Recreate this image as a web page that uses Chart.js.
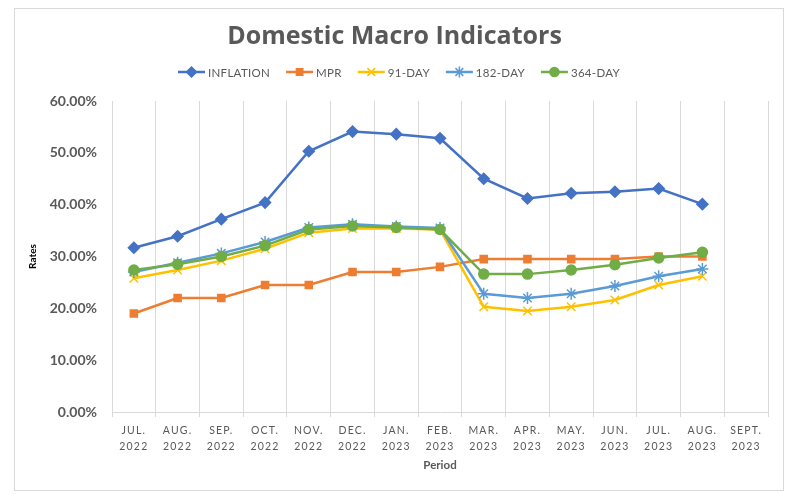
<!DOCTYPE html>
<html>
<head>
<meta charset="utf-8">
<script src="https://cdn.jsdelivr.net/npm/chart.js@4.4.1/dist/chart.umd.min.js"></script>
<style>
  html, body { margin: 0; padding: 0; background: #fff; }
  #box {
    position: absolute; left: 14px; top: 8px;
    width: 768px; height: 481px;
    border: 1px solid #d9d9d9;
  }
</style>
</head>
<body>
<div id="box"><canvas id="c" width="768" height="481"></canvas></div>
<script>
const periods = [
  ['JUL.', '2022'], ['AUG.', '2022'], ['SEP.', '2022'], ['OCT.', '2022'], ['NOV.', '2022'],
  ['DEC.', '2022'], ['JAN.', '2023'], ['FEB.', '2023'], ['MAR.', '2023'], ['APR.', '2023'],
  ['MAY.', '2023'], ['JUN.', '2023'], ['JUL.', '2023'], ['AUG.', '2023'], ['SEPT.', '2023'],
];
const inflation = [31.7, 33.9, 37.2, 40.4, 50.3, 54.1, 53.6, 52.8, 45.0, 41.2, 42.2, 42.5, 43.1, 40.1, null];
const mpr       = [19.0, 22.0, 22.0, 24.5, 24.5, 27.0, 27.0, 28.0, 29.5, 29.5, 29.5, 29.5, 30.0, 30.0, null];
const bill91    = [25.8, 27.4, 29.2, 31.5, 34.6, 35.4, 35.4, 35.2, 20.3, 19.5, 20.3, 21.6, 24.5, 26.2, null];
const bill182   = [27.0, 28.8, 30.6, 32.8, 35.6, 36.2, 35.8, 35.5, 22.8, 22.0, 22.8, 24.3, 26.2, 27.6, null];
const bill364   = [27.4, 28.5, 30.0, 32.1, 35.2, 35.9, 35.6, 35.2, 26.6, 26.6, 27.4, 28.4, 29.7, 30.8, null];
const yTicks = [0, 10, 20, 30, 40, 50, 60];

const GREY = '#595959';
const GRID = '#d9d9d9';

const series = [
  { label: 'INFLATION', data: inflation, color: '#4472C4', style: 'rectRot', r: 5.5 },
  { label: 'MPR',       data: mpr,       color: '#ED7D31', style: 'rect',    r: 5 },
  { label: '91-DAY',    data: bill91,    color: '#FFC000', style: 'crossRot', r: 6 },
  { label: '182-DAY',   data: bill182,   color: '#5B9BD5', style: 'star',    r: 6 },
  { label: '364-DAY',   data: bill364,   color: '#70AD47', style: 'circle',  r: 5 },
];

// letter-spaced category labels, like the Excel axis
const spacedTicks = {
  id: 'spacedTicks',
  beforeDraw(chart) {
    const s = chart.scales.x;
    if (s._spaced) return;
    const orig = s.drawLabels.bind(s);
    s.drawLabels = function (area) {
      chart.ctx.save();
      chart.ctx.letterSpacing = '1.2px';
      orig(area);
      chart.ctx.restore();
    };
    s._spaced = true;
  }
};

// legend with line + marker, drawn by hand
const lineLegend = {
  id: 'lineLegend',
  afterDraw(chart) {
    const ctx = chart.ctx;
    const y = 63;
    const lineW = 27, gap = 3, itemGap = 16;
    ctx.save();
    ctx.font = '11.5px Lato';
    ctx.letterSpacing = '0.3px';
    const widths = series.map(s => lineW + gap + ctx.measureText(s.label).width);
    const total = widths.reduce((a, b) => a + b, 0) + itemGap * (series.length - 1);
    let x = (chart.width - total) / 2;
    series.forEach((s, i) => {
      ctx.strokeStyle = s.color;
      ctx.lineWidth = 2.5;
      ctx.beginPath();
      ctx.moveTo(x, y);
      ctx.lineTo(x + lineW, y);
      ctx.stroke();
      ctx.fillStyle = s.color;
      ctx.lineWidth = 1.5;
      Chart.helpers.drawPoint(ctx, { pointStyle: s.style, radius: s.r - 0.5, borderWidth: 1.5 }, x + lineW / 2, y);
      ctx.fillStyle = GREY;
      ctx.textBaseline = 'middle';
      ctx.textAlign = 'left';
      ctx.fillText(s.label, x + lineW + gap, y + 1);
      x += widths[i] + itemGap;
    });
    ctx.restore();
  }
};

new Chart(document.getElementById('c'), {
  type: 'line',
  data: {
    labels: periods,
    datasets: series.map((s, i) => ({
      label: s.label,
      data: s.data,
      borderColor: s.color,
      backgroundColor: s.color,
      borderWidth: 2.5,
      pointStyle: s.style,
      pointRadius: s.r,
      pointBorderWidth: 1.5,
      pointBorderColor: s.color,
      pointBackgroundColor: s.color,
      tension: 0,
      order: series.length - i,
    })),
  },
  options: {
    responsive: false,
    animation: false,
    layout: { padding: { left: 6, right: 15, top: 0, bottom: 15 } },
    plugins: {
      legend: { display: false },
      tooltip: { enabled: false },
      title: {
        display: true,
        text: 'Domestic Macro Indicators',
        color: GREY,
        font: { family: 'Open Sans', size: 25, weight: 'bold' },
        padding: { top: 13, bottom: 49 },
      },
    },
    scales: {
      x: {
        offset: true,
        grid: { offset: true, color: GRID, lineWidth: 1, tickLength: 5, drawOnChartArea: true },
        border: { color: GRID },
        ticks: {
          color: GREY,
          font: { family: 'Lato', size: 10.5, lineHeight: 1.5 },
          padding: 6,
          maxRotation: 0,
          autoSkip: false,
        },
        title: {
          display: true,
          text: 'Period',
          color: GREY,
          font: { family: 'Lato', size: 11.5, weight: 'bold' },
          padding: { top: 1, bottom: 3 },
        },
        afterFit(s) { s.height = 63; },
      },
      y: {
        min: 0,
        max: 60,
        afterBuildTicks(s) { s.ticks = yTicks.map(v => ({ value: v })); },
        grid: { display: false, drawTicks: false },
        border: { display: false },
        ticks: {
          color: GREY,
          font: { family: 'Lato', size: 14, weight: 'bold' },
          padding: 15,
          callback: v => v.toFixed(2) + '%',
        },
        title: {
          display: true,
          text: 'Rates',
          color: '#000',
          font: { family: 'Lato', size: 10, weight: 'bold' },
          padding: { top: 6, bottom: 0 },
        },
        afterFit(s) { s.width = 91; },
      },
    },
  },
  plugins: [spacedTicks, lineLegend],
});
</script>
</body>
</html>
